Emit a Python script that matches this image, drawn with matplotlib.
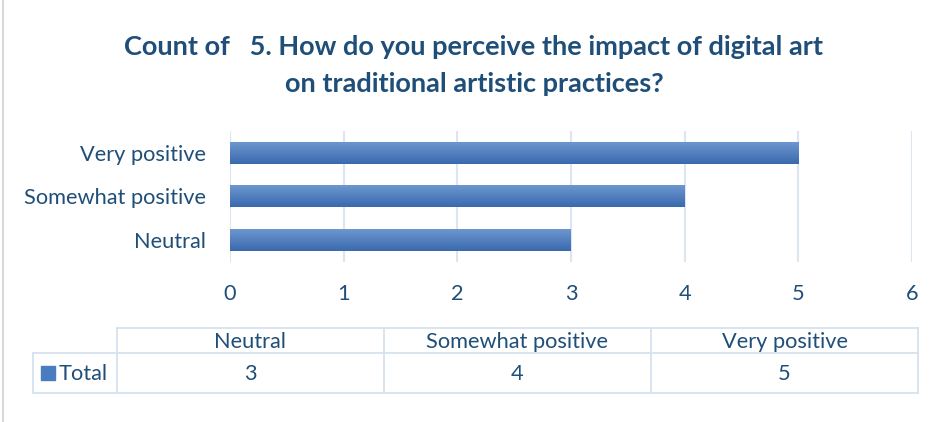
import matplotlib
matplotlib.use('Agg')
import matplotlib.pyplot as plt
import numpy as np
from matplotlib.colors import LinearSegmentedColormap

categories = ['Neutral', 'Somewhat positive', 'Very positive']
counts = [3, 4, 5]
series_name = 'Total'
title_lines = ['Count of   5. How do you perceive the impact of digital art',
			   'on traditional artistic practices?']

text_col = '#1F4E79'
grid_col = '#DCE6F2'
line_col = '#D6E2F0'
plt.rcParams['font.family'] = ['Lato', 'DejaVu Sans']

W, H = 944, 422
fig = plt.figure(figsize=(W / 100, H / 100), dpi=100)
fs = 15.7


def fx(px):
	return px / W


def fy(py):
	return 1 - py / H


ax = fig.add_axes([fx(230), fy(262), fx(912) - fx(230), fy(131) - fy(262)])
bars = ax.barh(range(len(categories)), counts, height=0.5, color='#4F7FC0', zorder=2)
ax.set_xlim(0, 6)
ax.set_ylim(-0.5, len(categories) - 0.5)
ax.set_xticks(range(7))
ax.set_yticks(range(len(categories)))
ax.set_yticklabels(categories)
ax.tick_params(axis='both', length=0, labelsize=fs, colors=text_col)
ax.tick_params(axis='x', pad=16)
ax.tick_params(axis='y', pad=17)
ax.grid(axis='x', color=grid_col, linewidth=1.5, zorder=0)
for s in ax.spines.values():
	s.set_visible(False)

# gradient fill on bars, lighter at the top
cmap = LinearSegmentedColormap.from_list('bar', ['#3A6AAE', '#6C96CE'])
grad = np.linspace(0, 1, 50).reshape(-1, 1)
for b in bars:
	x0, y0 = b.get_x(), b.get_y()
	ax.imshow(grad, extent=[x0, x0 + b.get_width(), y0, y0 + b.get_height()],
			  origin='lower', aspect='auto', cmap=cmap, zorder=3)
	b.set_visible(False)
ax.set_xlim(0, 6)
ax.set_ylim(-0.5, len(categories) - 0.5)

for line, y in zip(title_lines, [47, 84]):
	fig.text(fx(474), fy(y), line, ha='center', va='center', fontsize=19.5, fontweight='bold',
			 color=text_col)

# data table under the chart
cols = [117, 384, 651, 918]
top, mid, bot, left = 328, 353, 393, 33
lw = 1.3


def hline(y, x0, x1):
	fig.add_artist(plt.Line2D([fx(x0), fx(x1)], [fy(y), fy(y)], color=line_col, lw=lw))


def vline(x, y0, y1):
	fig.add_artist(plt.Line2D([fx(x), fx(x)], [fy(y0), fy(y1)], color=line_col, lw=lw))


hline(top, cols[0], cols[-1])
hline(mid, left, cols[-1])
hline(bot, left, cols[-1])
vline(left, mid, bot)
for c in cols:
	vline(c, top, bot)
for i, cat in enumerate(categories):
	cx = (cols[i] + cols[i + 1]) / 2
	fig.text(fx(cx), fy((top + mid) / 2 + 1), cat, ha='center', va='center', fontsize=fs, color=text_col)
	fig.text(fx(cx), fy((mid + bot) / 2 + 1), str(counts[i]), ha='center', va='center', fontsize=fs, color=text_col)
fig.add_artist(plt.Rectangle((fx(41), fy(380)), fx(55) - fx(41), fy(366) - fy(380), color='#4A7CC0'))
fig.text(fx(59), fy((mid + bot) / 2 + 1), series_name, ha='left', va='center', fontsize=fs, color=text_col)

# chart frame edge
fig.add_artist(plt.Line2D([fx(3), fx(3)], [0, 1], color='#D9D9D9', lw=1.5))

fig.savefig('out.png', dpi=100)
